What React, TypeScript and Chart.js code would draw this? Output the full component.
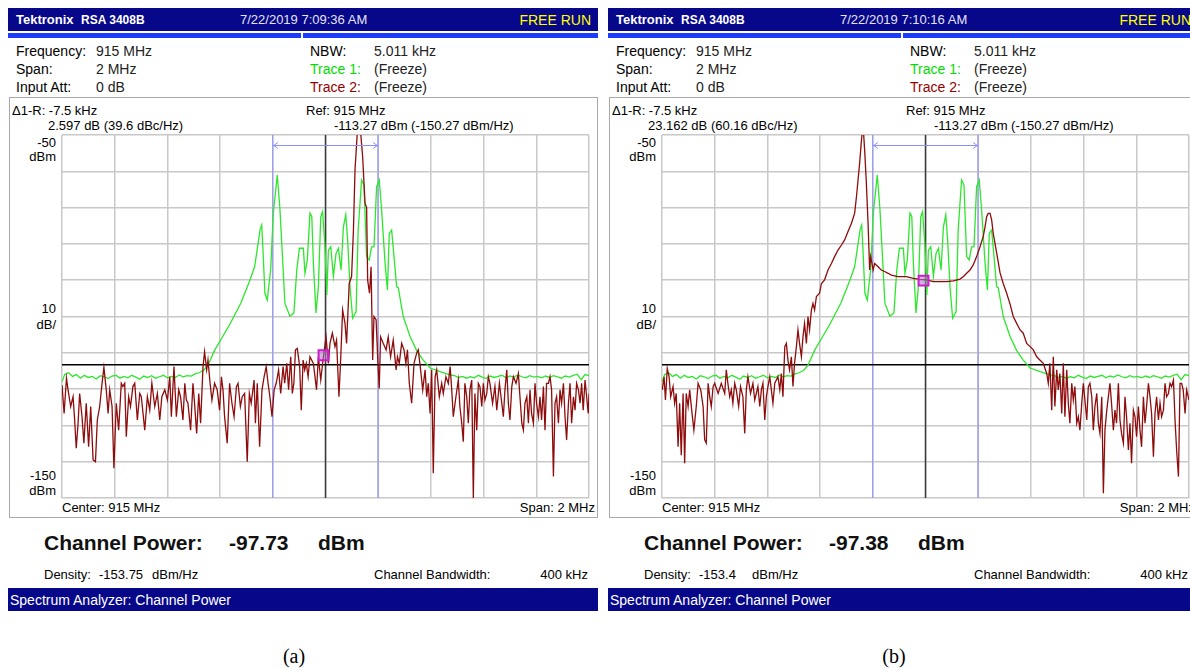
import React, { useEffect, useRef } from "react";
import { Chart, registerables } from "chart.js";

Chart.register(...registerables);

// ---------- axis definition (frequency offset from 915 MHz in kHz, level in dBm) ----------
const FREQ_MIN = -1000;
const FREQ_MAX = 1000;
const FREQ_STEP = 200;
const LEVEL_TOP = -50;
const LEVEL_BOTTOM = -150;
const LEVEL_STEP = 10;
const REF_LEVEL = -113.27;
const CHANNEL_EDGES = [-200, 200];
const ARROW_LEVEL = -52.8;
const MARKER_FREQ = -7.5;
const MARKER_LEVELS = [-110.67, -90.11];

// ---------- Trace 1 (green, frozen, same in both captures) ----------
const trace1: [number, number][] = [
  [-1000, -118], [-990, -116], [-975, -115.5], [-960, -116.5], [-945, -116], [-930, -117], [-915, -116.2],
  [-900, -116.8], [-885, -116.5], [-870, -117.2], [-855, -116.3], [-840, -116.6], [-825, -117.1], [-810, -116.4],
  [-795, -116.2], [-780, -117], [-765, -116.5], [-750, -116.9], [-735, -116.2], [-720, -116.7], [-705, -117.3],
  [-690, -116.4], [-675, -116.8], [-660, -116.3], [-645, -117], [-630, -116.6], [-615, -116.2], [-600, -116.9],
  [-585, -116.5], [-570, -116.8], [-555, -116.1], [-540, -116.6], [-525, -116.3], [-510, -116.4], [-495, -115.8],
  [-480, -115.5], [-462, -114.8], [-446, -113.4], [-420, -109.2], [-390, -105.5], [-362, -102], [-321, -96.3],
  [-287, -90], [-269, -86.3], [-256, -80], [-248, -76], [-242, -74.8], [-237, -82], [-230, -93.6], [-221, -95.5],
  [-208, -87], [-198, -71.5], [-183, -61], [-173, -70.3], [-162, -85.3], [-154, -96.4], [-135, -99.9], [-120, -99],
  [-109, -87.2], [-99, -81.2], [-84, -81.2], [-78, -88.1], [-69, -84.4], [-59, -71.5], [-52, -72.4], [-46, -85.3],
  [-36, -99], [-27, -91.8], [-18, -72.5], [-11, -71.1], [-2, -80.8], [5, -94.1], [11, -81.7], [20, -80.8],
  [30, -89], [40, -82.6], [49, -81.2], [59, -87.2], [68, -75.3], [77, -72], [84, -78.9], [93, -91.8],
  [103, -100.5], [116, -98.7], [124, -76.2], [137, -62.4], [146, -63.8], [156, -83.5], [166, -84.4], [175, -80.8],
  [184, -80.8], [194, -64.2], [204, -62.4], [213, -70.7], [226, -85.3], [235, -92.7], [242, -77.1], [251, -76.2],
  [260, -83.5], [270, -91.8], [276, -92], [295, -100], [321, -105.5], [346, -109.4], [371, -112], [397, -114.2],
  [435, -115.2], [472, -116.1], [490, -116.3], [505, -116.8], [520, -116.5], [535, -117], [550, -116.6],
  [565, -116.9], [580, -116.2], [595, -116.7], [610, -117.1], [625, -116.4], [640, -116.8], [655, -116.5],
  [670, -116.2], [685, -116.9], [700, -116.4], [715, -116.7], [730, -116.1], [745, -116.6], [760, -116.9],
  [775, -116.3], [790, -116.7], [805, -116.5], [820, -116.9], [835, -116.4], [850, -116.8], [865, -116.3],
  [880, -116.6], [895, -117], [910, -116.4], [925, -116.7], [940, -116.2], [955, -115.9], [970, -117.4],
  [985, -116], [1000, -116.3],
];

// ---------- Trace 2 (dark red), capture (a) ----------
const trace2a: [number, number][] = [
  [-1000, -118.9], [-992, -126.7], [-983, -117.0], [-977, -120.2], [-967, -124.8], [-958, -122.1], [-952, -128.5],
  [-946, -136.3], [-939, -129.4], [-933, -121.2], [-924, -127.6], [-917, -134.9], [-908, -123.9], [-899, -135.9],
  [-891, -124.8], [-882, -139.5], [-873, -140.0], [-866, -128.5], [-857, -124.8], [-848, -118.4], [-841, -114.0],
  [-832, -120.2], [-825, -126.7], [-819, -120.2], [-810, -124.8], [-803, -141.8], [-794, -123.9], [-785, -131.3],
  [-775, -118.4], [-769, -119.3], [-762, -118.4], [-756, -133.1], [-747, -122.1], [-740, -124.8], [-731, -119.3],
  [-724, -118.4], [-714, -128.5], [-705, -121.2], [-699, -122.1], [-686, -131.3], [-676, -122.1], [-667, -125.8],
  [-659, -118.4], [-648, -124.8], [-638, -121.2], [-629, -128.5], [-621, -122.1], [-610, -120.2], [-600, -123.0],
  [-591, -116.6], [-585, -127.6], [-575, -113.8], [-566, -127.6], [-557, -120.2], [-550, -122.1], [-541, -128.5],
  [-534, -118.4], [-528, -123.0], [-522, -123.9], [-512, -131.3], [-503, -118.4], [-497, -123.9], [-489, -132.2],
  [-481, -121.2], [-474, -129.4], [-465, -114.0], [-459, -109.7], [-451, -114.7], [-446, -112.0], [-438, -118.4],
  [-431, -123.0], [-421, -118.4], [-411, -120.2], [-402, -125.8], [-395, -116.6], [-389, -120.2], [-383, -127.6],
  [-373, -134.9], [-364, -118.4], [-355, -123.9], [-347, -127.6], [-338, -119.3], [-332, -118.4], [-323, -124.8],
  [-316, -122.1], [-307, -121.2], [-297, -140.0], [-289, -121.2], [-282, -123.9], [-271, -117.5], [-266, -129.4],
  [-259, -118.4], [-250, -135.9], [-241, -120.2], [-233, -116.6], [-225, -113.8], [-218, -118.4], [-211, -122.1],
  [-203, -127.6], [-195, -120.2], [-187, -118.4], [-178, -114.7], [-170, -121.2], [-161, -113.8], [-155, -118.4],
  [-147, -112.9], [-140, -120.2], [-132, -111.1], [-126, -121.2], [-120, -118.4], [-114, -109.2], [-107, -108.8],
  [-98, -113.8], [-92, -125.8], [-85, -112.0], [-79, -114.7], [-73, -112.9], [-66, -116.6], [-59, -111.1],
  [-46, -112.9], [-34, -120.2], [-27, -111.1], [-18, -117.5], [-8, -111.1], [2, -105.6], [11, -112.9],
  [17, -107.4], [26, -104.6], [36, -108.3], [42, -106.5], [51, -122.1], [58, -111.1], [65, -98.2], [74, -101.9],
  [80, -107.4], [90, -90.9], [99, -89.0], [106, -76.2], [112, -59.6], [121, -49], [133, -49], [141, -56.0],
  [150, -68.8], [156, -70.0], [160, -90.0], [167, -93.6], [173, -86.3], [179, -112.0], [184, -100.0],
  [192, -100.9], [199, -112.9], [204, -119.8], [209, -105.6], [219, -107.4], [230, -109.2], [238, -105.6],
  [247, -111.1], [257, -106.5], [268, -114.7], [273, -111.1], [280, -112.9], [289, -107.4], [298, -109.2],
  [305, -112.9], [311, -109.2], [318, -118.4], [327, -123.9], [336, -112.9], [346, -110.1], [352, -109.2],
  [361, -114.7], [369, -120.2], [378, -114.7], [384, -122.1], [390, -118.4], [397, -126.7], [403, -114.7],
  [409, -143.2], [416, -116.6], [422, -114.7], [432, -122.1], [441, -118.4], [447, -121.2], [457, -116.6],
  [466, -118.4], [473, -113.8], [479, -120.2], [485, -127.6], [495, -122.1], [504, -117.5], [510, -124.8],
  [517, -129.4], [523, -134.5], [529, -118.4], [536, -122.1], [542, -129.4], [548, -120.2], [555, -117.5],
  [561, -150.1], [567, -121.2], [574, -131.3], [580, -118.4], [586, -119.3], [593, -124.8], [599, -118.4],
  [605, -123.0], [612, -121.2], [618, -116.6], [624, -118.4], [634, -123.9], [643, -119.3], [650, -125.8],
  [660, -118.4], [669, -123.9], [675, -127.6], [681, -120.2], [688, -114.7], [694, -123.9], [700, -128.5],
  [707, -119.3], [713, -116.6], [723, -118.4], [732, -115.7], [738, -122.1], [745, -129.4], [751, -131.3],
  [757, -123.9], [764, -122.1], [770, -129.4], [776, -120.2], [782, -126.7], [789, -129.4], [795, -118.4],
  [801, -123.9], [808, -127.6], [814, -122.1], [820, -128.5], [827, -119.3], [833, -131.3], [839, -118.4],
  [846, -118.4], [852, -116.6], [858, -120.2], [865, -144.1], [871, -123.9], [877, -122.1], [884, -129.4],
  [890, -120.2], [896, -123.9], [903, -118.4], [909, -127.6], [915, -134.0], [922, -123.9], [928, -118.4],
  [934, -129.4], [941, -122.1], [947, -125.8], [953, -118.4], [960, -120.2], [966, -123.9], [972, -118.4],
  [978, -125.8], [985, -117.5], [991, -122.1], [997, -126.7], [1000, -121.2],
];

// ---------- Trace 2 (dark red), capture (b) ----------
const trace2b: [number, number][] = [
  [-999, -120.2], [-992, -116.6], [-987, -123.0], [-980, -114.3], [-973, -116.6], [-967, -122.1], [-958, -119.3],
  [-952, -123.9], [-946, -121.2], [-939, -135.9], [-933, -123.9], [-927, -138.2], [-920, -121.2], [-914, -140.4],
  [-908, -121.2], [-901, -124.8], [-895, -120.2], [-886, -126.7], [-879, -131.3], [-870, -124.8], [-863, -118.4],
  [-853, -120.2], [-844, -124.8], [-838, -134.0], [-832, -134.9], [-825, -118.4], [-819, -122.1], [-813, -124.8],
  [-806, -119.3], [-800, -118.4], [-787, -121.2], [-775, -118.4], [-762, -121.2], [-756, -114.7], [-750, -118.4],
  [-743, -122.1], [-737, -120.2], [-731, -123.9], [-724, -118.4], [-718, -120.2], [-709, -124.8], [-702, -119.3],
  [-693, -122.1], [-686, -132.2], [-680, -120.2], [-674, -116.6], [-664, -121.2], [-655, -118.4], [-648, -123.0],
  [-642, -121.2], [-636, -119.3], [-629, -124.8], [-623, -120.2], [-617, -118.4], [-610, -128.5], [-604, -122.1],
  [-598, -119.3], [-591, -116.6], [-585, -120.2], [-579, -123.9], [-572, -118.4], [-560, -116.6], [-553, -120.2],
  [-547, -115.7], [-541, -122.1], [-534, -108.3], [-528, -107.4], [-522, -112.0], [-516, -114.7], [-509, -111.1],
  [-503, -119.3], [-497, -112.9], [-490, -108.3], [-484, -103.7], [-478, -107.4], [-471, -111.1], [-465, -105.6],
  [-459, -101.9], [-452, -107.4], [-446, -100.0], [-440, -103.7], [-433, -98.2], [-427, -96.4], [-421, -98.2],
  [-414, -94.5], [-402, -93.6], [-395, -90.9], [-383, -89.9], [-370, -87.2], [-357, -85.4], [-345, -83.5],
  [-332, -81.7], [-319, -80.3], [-307, -78.9], [-294, -76.6], [-281, -74.3], [-269, -71.6], [-262, -67.0],
  [-256, -62.4], [-250, -57.8], [-244, -52.3], [-240, -49.0], [-235, -49.5], [-231, -54.1], [-225, -62.4],
  [-218, -74.3], [-212, -87.2], [-208, -83.5], [-203, -85.4], [-199, -87.2], [-193, -85.4], [-180, -86.3],
  [-168, -87.2], [-155, -87.6], [-142, -88.1], [-130, -88.6], [-117, -88.8], [-104, -89.0], [-92, -89.0],
  [-73, -89.0], [-46, -89.5], [-21, -89.8], [4, -89.9], [30, -90.4], [55, -90.4], [80, -90.4], [106, -90.2],
  [131, -89.7], [144, -89.0], [156, -88.1], [169, -87.2], [181, -85.8], [194, -83.5], [207, -80.8], [219, -78.0],
  [226, -75.3], [232, -72.5], [238, -71.6], [245, -71.6], [251, -73.4], [257, -77.1], [270, -82.5], [283, -88.0],
  [295, -90.9], [308, -93.6], [321, -96.6], [333, -100.0], [346, -101.9], [359, -103.7], [371, -104.6],
  [384, -107.4], [397, -108.3], [409, -109.2], [422, -111.1], [434, -112.0], [447, -112.9], [460, -115.7],
  [466, -118.4], [472, -112.9], [479, -125.8], [485, -111.1], [491, -124.8], [498, -114.7], [504, -120.2],
  [510, -115.7], [517, -126.7], [523, -112.9], [529, -127.6], [536, -114.7], [542, -123.9], [548, -129.4],
  [555, -118.4], [561, -123.0], [567, -119.3], [574, -129.4], [580, -127.6], [586, -131.3], [593, -123.9],
  [599, -118.4], [605, -123.0], [612, -128.5], [618, -119.3], [624, -118.4], [631, -122.1], [637, -131.3],
  [643, -124.8], [650, -121.2], [656, -129.4], [662, -132.2], [669, -122.1], [675, -148.7], [681, -131.3],
  [688, -125.8], [694, -122.1], [700, -118.4], [706, -123.9], [713, -131.3], [719, -125.8], [725, -129.4],
  [732, -118.4], [738, -128.5], [744, -132.2], [751, -134.9], [757, -122.1], [763, -127.6], [770, -136.8],
  [776, -129.4], [782, -140.4], [789, -125.8], [795, -127.6], [801, -133.1], [808, -124.8], [814, -131.3],
  [820, -135.9], [827, -122.1], [833, -129.4], [839, -124.8], [846, -118.4], [852, -122.1], [858, -126.7],
  [865, -138.6], [871, -126.7], [877, -122.1], [884, -128.5], [890, -123.9], [896, -127.6], [903, -125.8],
  [909, -118.4], [915, -122.1], [922, -121.2], [928, -118.4], [934, -119.3], [941, -117.5], [947, -128.5],
  [953, -136.8], [960, -144.1], [966, -118.4], [972, -118.4], [978, -120.2], [985, -126.7], [991, -120.2],
  [1000, -123.0],
];

// ---------- screen texts ----------
const timestamps = ["7/22/2019 7:09:36 AM", "7/22/2019 7:10:16 AM"];
const deltaReadouts = ["2.597 dB (39.6 dBc/Hz)", "23.162 dB (60.16 dBc/Hz)"];
const channelPowers = ["-97.73", "-97.38"];
const densities = ["-153.75", "-153.4"];
const captions = ["(a)", "(b)"];
const settingsLabels = ["Frequency:", "Span:", "Input Att:"];
const settingsValues = ["915 MHz", "2 MHz", "0 dB"];
const traceLabels = ["NBW:", "Trace 1:", "Trace 2:"];
const traceValues = ["5.011 kHz", "(Freeze)", "(Freeze)"];
const traceLabelColors = ["#000", "#00dd00", "#990000"];

const NAVY = "#07078a";
const STRIPE = "#1c3cff";
const GREEN = "#2ee62e";
const DARKRED = "#8e0c0c";

type TxtProps = {
  x: number;
  y: number;
  s?: number;
  color?: string;
  bold?: boolean;
  align?: "left" | "right" | "center";
  family?: string;
  children: React.ReactNode;
};

function Txt({ x, y, s = 13, color = "#000", bold = false, align = "left", family, children }: TxtProps) {
  const tr = align === "right" ? "translateX(-100%)" : align === "center" ? "translateX(-50%)" : undefined;
  return (
    <div
      style={{
        position: "absolute",
        left: x,
        top: y - s * 0.6,
        fontSize: s,
        lineHeight: `${s * 1.2}px`,
        color,
        fontWeight: bold ? 700 : 400,
        whiteSpace: "nowrap",
        transform: tr,
        fontFamily: family,
      }}
    >
      {children}
    </div>
  );
}

const channelArrow = {
  id: "channelArrow",
  afterDatasetsDraw(chart: any) {
    const { ctx, scales } = chart;
    const xs = scales.x;
    const ys = scales.y;
    const yy = Math.round(ys.getPixelForValue(ARROW_LEVEL)) + 0.5;
    const x1 = xs.getPixelForValue(CHANNEL_EDGES[0]);
    const x2 = xs.getPixelForValue(CHANNEL_EDGES[1]);
    ctx.save();
    ctx.strokeStyle = "#8c8cff";
    ctx.lineWidth = 1;
    ctx.beginPath();
    ctx.moveTo(x1, yy);
    ctx.lineTo(x2, yy);
    ctx.moveTo(x1 + 5, yy - 3);
    ctx.lineTo(x1 + 1, yy);
    ctx.lineTo(x1 + 5, yy + 3);
    ctx.moveTo(x2 - 5, yy - 3);
    ctx.lineTo(x2 - 1, yy);
    ctx.lineTo(x2 - 5, yy + 3);
    ctx.stroke();
    ctx.restore();
  },
};

function toPts(arr: [number, number][]) {
  return arr.map(([x, y]) => ({ x, y }));
}

function SpectrumPlot({ trace2, markerLevel }: { trace2: [number, number][]; markerLevel: number }) {
  const ref = useRef<HTMLCanvasElement | null>(null);
  useEffect(() => {
    if (!ref.current) return;
    const chart = new Chart(ref.current, {
      type: "line",
      data: {
        datasets: [
          {
            data: [{ x: MARKER_FREQ, y: markerLevel }],
            pointStyle: "rect",
            pointRadius: 7,
            pointBorderWidth: 2,
            pointBorderColor: "#d21ad2",
            pointBackgroundColor: "rgba(170,120,200,0.55)",
            showLine: false,
            order: 0,
          } as any,
          {
            data: toPts(trace2),
            borderColor: DARKRED,
            borderWidth: 1.3,
            pointRadius: 0,
            tension: 0,
            clip: 0,
            order: 1,
          },
          {
            data: toPts(trace1),
            borderColor: GREEN,
            borderWidth: 1.3,
            pointRadius: 0,
            tension: 0,
            clip: 0,
            order: 2,
          },
          {
            data: [{ x: FREQ_MIN, y: REF_LEVEL }, { x: FREQ_MAX, y: REF_LEVEL }],
            borderColor: "#000",
            borderWidth: 1.5,
            pointRadius: 0,
            order: 3,
          },
          {
            data: [{ x: 0, y: LEVEL_BOTTOM }, { x: 0, y: LEVEL_TOP }],
            borderColor: "#3a3a3a",
            borderWidth: 1.5,
            pointRadius: 0,
            order: 4,
          },
          {
            data: [{ x: CHANNEL_EDGES[0], y: LEVEL_BOTTOM }, { x: CHANNEL_EDGES[0], y: LEVEL_TOP }],
            borderColor: "#8c8cff",
            borderWidth: 1,
            pointRadius: 0,
            order: 5,
          },
          {
            data: [{ x: CHANNEL_EDGES[1], y: LEVEL_BOTTOM }, { x: CHANNEL_EDGES[1], y: LEVEL_TOP }],
            borderColor: "#8c8cff",
            borderWidth: 1,
            pointRadius: 0,
            order: 6,
          },
        ],
      },
      options: {
        animation: false,
        responsive: false,
        maintainAspectRatio: false,
        events: [],
        layout: { padding: 1, autoPadding: false },
        plugins: { legend: { display: false }, tooltip: { enabled: false } },
        scales: {
          x: {
            type: "linear",
            min: FREQ_MIN,
            max: FREQ_MAX,
            ticks: { display: false, stepSize: FREQ_STEP },
            grid: { color: "#c8c8c8", lineWidth: 1.5, drawTicks: false },
            border: { display: false },
          },
          y: {
            type: "linear",
            min: LEVEL_BOTTOM,
            max: LEVEL_TOP,
            ticks: { display: false, stepSize: LEVEL_STEP },
            grid: { color: "#c8c8c8", lineWidth: 1.5, drawTicks: false },
            border: { display: false },
          },
        },
      },
      plugins: [channelArrow],
    } as any);
    return () => chart.destroy();
  }, [trace2, markerLevel]);
  return (
    <canvas
      ref={ref}
      width={529}
      height={365}
      style={{ position: "absolute", left: 53, top: 134, width: 529, height: 365 }}
    />
  );
}

function Panel({ x0, idx, trace2 }: { x0: number; idx: number; trace2: [number, number][] }) {
  return (
    <div style={{ position: "absolute", left: x0, top: 0, width: 590, height: 668 }}>
      {/* title bar */}
      <div style={{ position: "absolute", left: 0, top: 8, width: 590, height: 23, background: NAVY }} />
      <Txt x={8} y={20} s={13} color="#fff" bold>
        Tektronix
      </Txt>
      <Txt x={73} y={20} s={12} color="#fff" bold>
        RSA 3408B
      </Txt>
      <Txt x={232} y={20} s={13} color="#e4e4f4">
        {timestamps[idx]}
      </Txt>
      <Txt x={583} y={20} s={14} color="#ffff00" align="right">
        FREE RUN
      </Txt>
      {/* stripe */}
      <div style={{ position: "absolute", left: 0, top: 33, width: 293, height: 5, background: STRIPE }} />
      <div style={{ position: "absolute", left: 295, top: 33, width: 295, height: 5, background: STRIPE }} />

      {/* settings */}
      {settingsLabels.map((t, i) => (
        <Txt key={"sl" + i} x={8} y={51 + i * 18} s={14}>
          {t}
        </Txt>
      ))}
      {settingsValues.map((t, i) => (
        <Txt key={"sv" + i} x={88} y={51 + i * 18} s={14} color="#222">
          {t}
        </Txt>
      ))}
      {traceLabels.map((t, i) => (
        <Txt key={"tl" + i} x={302} y={51 + i * 18} s={14} color={traceLabelColors[i]}>
          {t}
        </Txt>
      ))}
      {traceValues.map((t, i) => (
        <Txt key={"tv" + i} x={366} y={51 + i * 18} s={14} color="#222">
          {t}
        </Txt>
      ))}

      {/* display frame */}
      <div
        style={{
          position: "absolute",
          left: 1,
          top: 97,
          width: 587,
          height: 419,
          border: "1px solid #a8a8a8",
        }}
      />
      <Txt x={4} y={111} s={13}>
        Δ1-R: -7.5 kHz
      </Txt>
      <Txt x={40} y={126} s={13}>
        {deltaReadouts[idx]}
      </Txt>
      <Txt x={298} y={111} s={13}>
        Ref: 915 MHz
      </Txt>
      <Txt x={326} y={126} s={13}>
        -113.27 dBm (-150.27 dBm/Hz)
      </Txt>
      <Txt x={48} y={143} s={13} align="right">
        -50
      </Txt>
      <Txt x={48} y={157} s={13} align="right">
        dBm
      </Txt>
      <Txt x={48} y={309} s={13} align="right">
        10
      </Txt>
      <Txt x={48} y={325} s={13} align="right">
        dB/
      </Txt>
      <Txt x={48} y={476} s={13} align="right">
        -150
      </Txt>
      <Txt x={48} y={491} s={13} align="right">
        dBm
      </Txt>
      <Txt x={54} y={508} s={13}>
        Center: 915 MHz
      </Txt>
      <Txt x={587} y={508} s={13} align="right">
        Span: 2 MHz
      </Txt>

      <SpectrumPlot trace2={trace2} markerLevel={MARKER_LEVELS[idx]} />

      {/* channel power readout */}
      <Txt x={36} y={543} s={21} bold color="#111">
        Channel Power:
      </Txt>
      <Txt x={221} y={543} s={21} bold color="#111">
        {channelPowers[idx]}
      </Txt>
      <Txt x={310} y={543} s={21} bold color="#111">
        dBm
      </Txt>
      <Txt x={36} y={575} s={13}>
        Density:
      </Txt>
      <Txt x={91} y={575} s={13}>
        {densities[idx]}
      </Txt>
      <Txt x={144} y={575} s={13}>
        dBm/Hz
      </Txt>
      <Txt x={366} y={575} s={13}>
        Channel Bandwidth:
      </Txt>
      <Txt x={580} y={575} s={13} align="right">
        400 kHz
      </Txt>

      {/* status bar */}
      <div style={{ position: "absolute", left: 0, top: 588, width: 590, height: 23, background: NAVY }} />
      <Txt x={2} y={600} s={14} color="#fff">
        Spectrum Analyzer: Channel Power
      </Txt>

      <Txt x={286} y={656} s={20} align="center" family='"Liberation Serif", "Times New Roman", serif'>
        {captions[idx]}
      </Txt>
    </div>
  );
}

export default function App() {
  return (
    <div
      style={{
        position: "absolute",
        left: 0,
        top: 0,
        width: 1190,
        height: 668,
        overflow: "hidden",
        background: "#fff",
        fontFamily: '"Liberation Sans", Arial, sans-serif',
      }}
    >
      <Panel x0={8} idx={0} trace2={trace2a} />
      <Panel x0={608} idx={1} trace2={trace2b} />
    </div>
  );
}
